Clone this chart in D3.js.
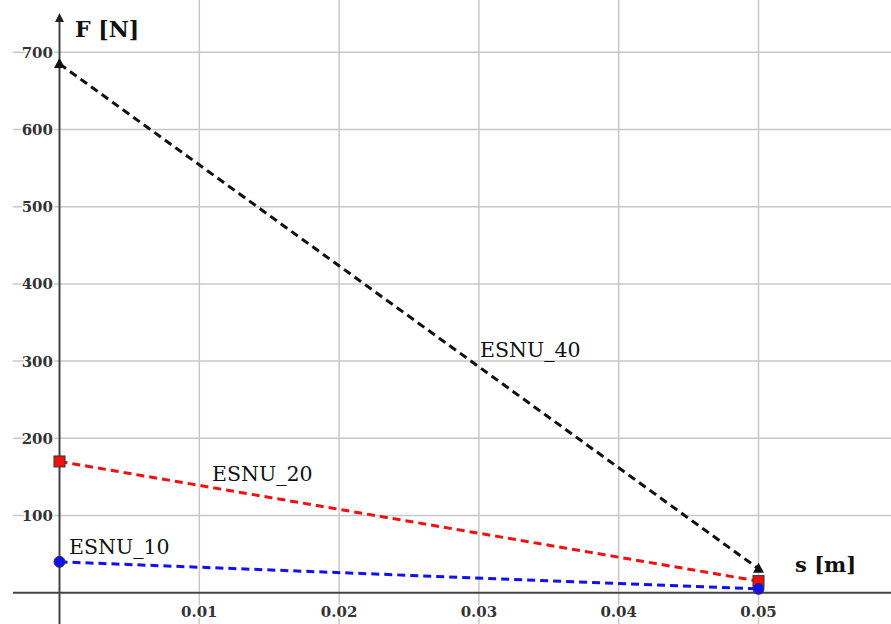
<!DOCTYPE html>
<html><head><meta charset="utf-8">
<script src="https://cdn.jsdelivr.net/npm/d3@7"></script>
<style>body{margin:0;background:#fff}svg{display:block}</style>
</head><body>
<script>
const sValues = [0, 0.05];
const esnu10 = [40, 5];
const esnu20 = [170, 15];
const esnu40 = [685, 31];
const xTicks = [0.01, 0.02, 0.03, 0.04, 0.05];
const yTicks = [100, 200, 300, 400, 500, 600, 700];
const seriesNames = ["ESNU_10", "ESNU_20", "ESNU_40"];

const W = 891, H = 624;
const svg = d3.select("body").append("svg").attr("width", W).attr("height", H);
const x = d3.scaleLinear().domain([0, 0.05]).range([59.5, 758.5]);
const y = d3.scaleLinear().domain([0, 700]).range([592.7, 52.3]);
const serif = "'DejaVu Serif','Liberation Serif',serif";

// grid
svg.append("g").selectAll("line").data(xTicks).join("line")
  .attr("x1", d => x(d)).attr("x2", d => x(d)).attr("y1", 0).attr("y2", H)
  .attr("stroke", "#c8c8c8").attr("stroke-width", 1.5);
svg.append("g").selectAll("line").data(yTicks).join("line")
  .attr("x1", 13).attr("x2", W).attr("y1", d => y(d)).attr("y2", d => y(d))
  .attr("stroke", "#c8c8c8").attr("stroke-width", 1.5);

// axes
svg.append("line").attr("x1", 13).attr("x2", W).attr("y1", y(0)).attr("y2", y(0))
  .attr("stroke", "#444").attr("stroke-width", 2);
svg.append("line").attr("x1", x(0)).attr("x2", x(0)).attr("y1", H).attr("y2", 18)
  .attr("stroke", "#444").attr("stroke-width", 2);
svg.append("path").attr("d", `M${x(0)},13 L${x(0)-4.5},22 L${x(0)+4.5},22 Z`).attr("fill", "#222");

// tick labels
svg.append("g").selectAll("text").data(yTicks).join("text")
  .attr("x", 53).attr("y", d => y(d)).attr("dy", "0.37em")
  .attr("text-anchor", "end").attr("font-family", serif).attr("font-size", 15).attr("font-weight", "bold")
  .attr("fill", "#333").attr("stroke", "#fff").attr("stroke-width", 3).attr("paint-order", "stroke")
  .text(d => d);
svg.append("g").selectAll("text").data(xTicks).join("text")
  .attr("x", d => x(d)).attr("y", 617)
  .attr("text-anchor", "middle").attr("font-family", serif).attr("font-size", 15).attr("font-weight", "bold")
  .attr("fill", "#333").attr("stroke", "#fff").attr("stroke-width", 3).attr("paint-order", "stroke")
  .text(d => d);

// axis titles
svg.append("text").attr("x", 75).attr("y", 37).attr("font-family", serif).attr("font-size", 22)
  .attr("font-weight", "bold").attr("fill", "#111").text("F [N]");
svg.append("text").attr("x", 795).attr("y", 572).attr("font-family", serif).attr("font-size", 21)
  .attr("font-weight", "bold").attr("fill", "#111").text("s [m]");

const line = d3.line().x((d, i) => x(sValues[i])).y(d => y(d));
const series = [
  {name: seriesNames[2], vals: esnu40, color: "#111", marker: "tri", lx: 480, ly: 357},
  {name: seriesNames[1], vals: esnu20, color: "#f01010", marker: "sq", lx: 212, ly: 481},
  {name: seriesNames[0], vals: esnu10, color: "#1010f0", marker: "circ", lx: 69, ly: 554}
];
series.forEach(s => {
  svg.append("path").datum(s.vals).attr("d", line).attr("fill", "none")
    .attr("stroke", s.color).attr("stroke-width", 3).attr("stroke-dasharray", "8,5");
});
series.forEach(s => {
  s.vals.forEach((v, i) => {
    const cx = x(sValues[i]), cy = y(v);
    if (s.marker === "tri") {
      svg.append("path").attr("d", `M${cx},${cy-6} L${cx-5.5},${cy+4} L${cx+5.5},${cy+4} Z`).attr("fill", "#111");
    } else if (s.marker === "sq") {
      svg.append("rect").attr("x", cx-5.5).attr("y", cy-5.5).attr("width", 11).attr("height", 11)
        .attr("fill", s.color).attr("stroke", "#333").attr("stroke-width", 1);
    } else {
      svg.append("circle").attr("cx", cx).attr("cy", cy).attr("r", 5.5)
        .attr("fill", s.color).attr("stroke", "#333").attr("stroke-width", 1);
    }
  });
  svg.append("text").attr("x", s.lx).attr("y", s.ly).attr("font-family", serif).attr("font-size", 20.5)
    .attr("fill", "#111").text(s.name);
});
</script>
</body></html>
